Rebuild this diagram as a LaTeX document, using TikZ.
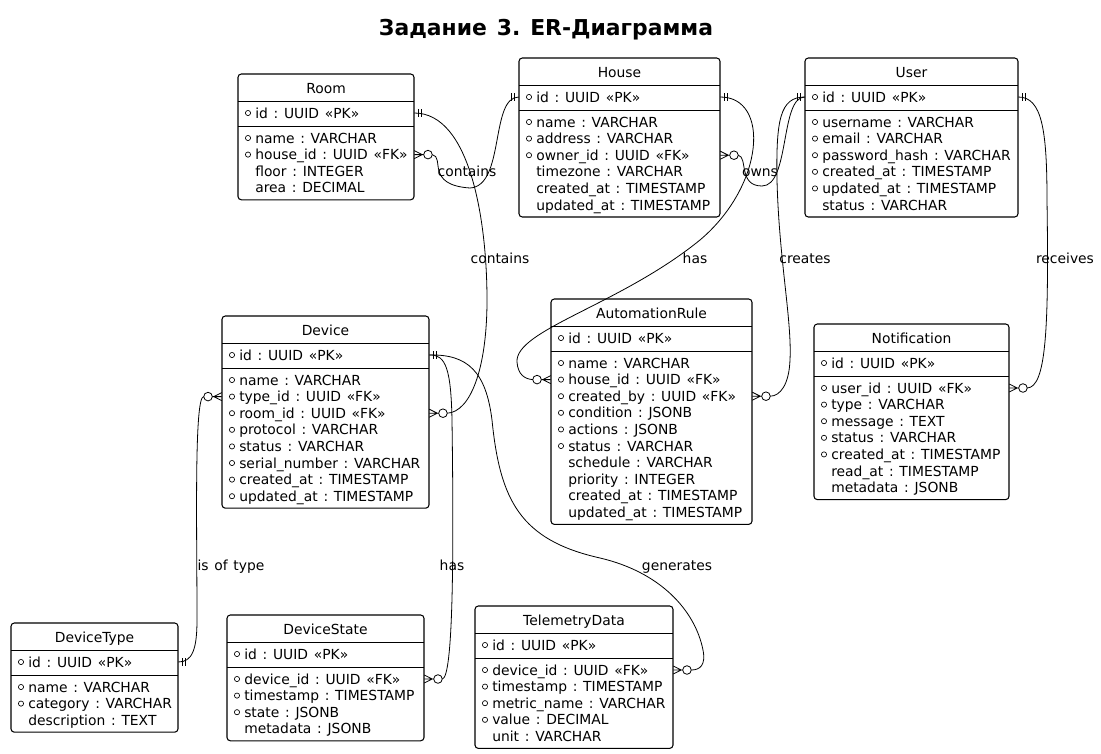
\documentclass[tikz,border=0pt]{standalone}
\usepackage{fontspec}
\setmainfont{DejaVu Sans}[WordSpace=1.3]
\usetikzlibrary{calc}
\frenchspacing

\tikzset{
  entityBox/.style={draw, fill=white, rounded corners=2.5pt, line width=0.8pt},
  entityLine/.style={line width=0.7pt},
  rowFont/.style={font=\fontsize{10.4}{12}\selectfont, inner sep=0pt, text height=8pt, text depth=0.5pt},
  titleText/.style={rowFont},
  rowText/.style={rowFont, anchor=west},
  rowBox/.style={inner sep=0pt, minimum height=12.45pt},
  keyDot/.style={line width=0.5pt},
  relLine/.style={line width=0.6pt},
  relLabel/.style={rowFont},
}

% entity: name, left, top, width, title, number of fields, fields (mark/text)
\newcommand{\entity}[7]{%
  \pgfmathsetmacro{\entBottom}{#3+76+(#6-1)*16.6}
  \draw[entityBox] (#2,#3) rectangle (#2+#4,\entBottom);
  \draw[entityLine] (#2,#3+27) -- (#2+#4,#3+27);
  \draw[entityLine] (#2,#3+52) -- (#2+#4,#3+52);
  \node[titleText] (#1-t) at (#2+#4/2,#3+14) {#5};
  \node[rowBox, minimum width={#4*0.75pt}] (#1-0) at (#2+#4/2,#3+39) {};
  \node[rowText] at (#2+17,#3+39) {id : UUID «PK»};
  \draw[keyDot] (#2+10,#3+39) circle (2.6);
  \foreach \m/\txt [count=\i] in {#7} {
    \pgfmathsetmacro{\rowY}{#3+64+(\i-1)*16.6}
    \node[rowBox, minimum width={#4*0.75pt}] (#1-\i) at (#2+#4/2,\rowY) {};
    \node[rowText] at (#2+17,\rowY) {\txt};
    \ifnum\m=1 \draw[keyDot] (#2+10,\rowY) circle (2.6); \fi
  }
}

% exactly one: two ticks, side 1 = right, -1 = left
\newcommand{\oneEnd}[2]{%
  \begin{scope}[shift={(#1)}, xscale=#2]
    \draw[relLine] (4,-4) -- (4,4) (7,-4) -- (7,4);
  \end{scope}}

% zero or many: crow's foot and circle
\newcommand{\manyEnd}[2]{%
  \begin{scope}[shift={(#1)}, xscale=#2]
    \draw[relLine] (0,-4) -- (8,0) -- (0,4) (0,0) -- (9.4,0);
    \draw[relLine] (13.7,0) circle (4.3);
  \end{scope}}

\begin{document}
\begin{tikzpicture}[x=0.75pt, y=-0.75pt]
    \fill[white] (0,0) rectangle (1101,754);
    \useasboundingbox (0,0) rectangle (1101,754);

    % Draw the title
    \node[font=\bfseries\fontsize{16.4}{19}\selectfont] (diagramTitle) at (546,30) {Задание 3. ER-Диаграмма};

    % Draw the entities
    \entity{room}{238}{74}{176}{Room}{4}{1/name : VARCHAR, 1/house\_id : UUID «FK», 0/floor : INTEGER, 0/area : DECIMAL}
    \entity{house}{519}{58}{201}{House}{6}{1/name : VARCHAR, 1/address : VARCHAR, 1/owner\_id : UUID «FK», 0/timezone : VARCHAR, 0/created\_at : TIMESTAMP, 0/updated\_at : TIMESTAMP}
    \entity{user}{805}{58}{213}{User}{6}{1/username : VARCHAR, 1/email : VARCHAR, 1/password\_hash : VARCHAR, 1/created\_at : TIMESTAMP, 1/updated\_at : TIMESTAMP, 0/status : VARCHAR}
    \entity{device}{222}{316}{207}{Device}{8}{1/name : VARCHAR, 1/type\_id : UUID «FK», 1/room\_id : UUID «FK», 1/protocol : VARCHAR, 1/status : VARCHAR, 1/serial\_number : VARCHAR, 1/created\_at : TIMESTAMP, 1/updated\_at : TIMESTAMP}
    \entity{rule}{551}{299}{201}{AutomationRule}{10}{1/name : VARCHAR, 1/house\_id : UUID «FK», 1/created\_by : UUID «FK», 1/condition : JSONB, 1/actions : JSONB, 1/status : VARCHAR, 0/schedule : VARCHAR, 0/priority : INTEGER, 0/created\_at : TIMESTAMP, 0/updated\_at : TIMESTAMP}
    \entity{notif}{814}{324}{195}{Notification}{7}{1/user\_id : UUID «FK», 1/type : VARCHAR, 1/message : TEXT, 1/status : VARCHAR, 1/created\_at : TIMESTAMP, 0/read\_at : TIMESTAMP, 0/metadata : JSONB}
    \entity{dtype}{11}{623}{167}{DeviceType}{3}{1/name : VARCHAR, 1/category : VARCHAR, 0/description : TEXT}
    \entity{dstate}{227}{615}{197}{DeviceState}{4}{1/device\_id : UUID «FK», 1/timestamp : TIMESTAMP, 1/state : JSONB, 0/metadata : JSONB}
    \entity{tdata}{475}{606}{198}{TelemetryData}{5}{1/device\_id : UUID «FK», 1/timestamp : TIMESTAMP, 1/metric\_name : VARCHAR, 1/value : DECIMAL, 0/unit : VARCHAR}

    % House contains Room
    \draw[relLine] ($(room-2.east)+(18,0)$) .. controls (445,157) and (425,185) .. (470,188)
        .. controls (505,186) and (490,97) .. (house-0.west);
    \manyEnd{room-2.east}{1} \oneEnd{house-0.west}{-1}
    \node[relLabel] (containsRoom) at (467,171) {contains};

    % Room contains Device
    \draw[relLine] (room-0.east) .. controls (470,113) and (487,220) .. (487,300)
        .. controls (487,370) and (470,412) .. ($(device-3.east)+(18,0)$);
    \oneEnd{room-0.east}{1} \manyEnd{device-3.east}{1}
    \node[relLabel] (containsDevice) at (500,258) {contains};

    % User owns House
    \draw[relLine] ($(house-3.east)+(18,0)$) .. controls (748,157) and (738,186) .. (762,186)
        .. controls (790,186) and (780,97) .. (user-0.west);
    \manyEnd{house-3.east}{1} \oneEnd{user-0.west}{-1}
    \node[relLabel] (ownsHouse) at (760,171) {owns};

    % House has AutomationRule
    \draw[relLine] (house-0.east) .. controls (770,97) and (765,185) .. (700,240)
        .. controls (620,305) and (515,330) .. (517,362)
        .. controls (518,375) and (525,379) .. ($(rule-2.west)+(-18,0)$);
    \oneEnd{house-0.east}{1} \manyEnd{rule-2.west}{-1}
    \node[relLabel] (hasRule) at (695,258) {has};

    % User creates AutomationRule
    \draw[relLine] (user-0.west) .. controls (780,97) and (776,120) .. (777,180)
        .. controls (779,260) and (792,320) .. (790,360)
        .. controls (789,385) and (780,396) .. ($(rule-3.east)+(18,0)$);
    \oneEnd{user-0.west}{-1} \manyEnd{rule-3.east}{1}
    \node[relLabel] (createsRule) at (805,258) {creates};

    % User receives Notification
    \draw[relLine] (user-0.east) .. controls (1042,97) and (1047,130) .. (1047,200)
        .. controls (1049,330) and (1046,387) .. ($(notif-1.east)+(18,0)$);
    \oneEnd{user-0.east}{1} \manyEnd{notif-1.east}{1}
    \node[relLabel] (receivesNotif) at (1065,258) {receives};

    % Device has DeviceState
    \draw[relLine] (device-0.east) .. controls (446,354) and (451,370) .. (452,420)
        .. controls (454,560) and (453,678) .. ($(dstate-1.east)+(18,0)$);
    \oneEnd{device-0.east}{1} \manyEnd{dstate-1.east}{1}
    \node[relLabel] (hasState) at (452,565) {has};

    % Device generates TelemetryData
    \draw[relLine] (device-0.east) .. controls (468,354) and (486,372) .. (492,420)
        .. controls (500,500) and (520,540) .. (600,558)
        .. controls (660,572) and (695,610) .. (703,650)
        .. controls (706,665) and (700,670) .. ($(tdata-1.east)+(18,0)$);
    \manyEnd{tdata-1.east}{1}
    \node[relLabel] (generatesData) at (677,565) {generates};

    % Device is of DeviceType
    \draw[relLine] (dtype-0.east) .. controls (192,662) and (197,650) .. (197,620)
        .. controls (197,530) and (194,396) .. ($(device-2.west)+(-18,0)$);
    \oneEnd{dtype-0.east}{1} \manyEnd{device-2.west}{-1}
    \node[relLabel] (isOfType) at (231,565) {is of type};
\end{tikzpicture}
\end{document}
